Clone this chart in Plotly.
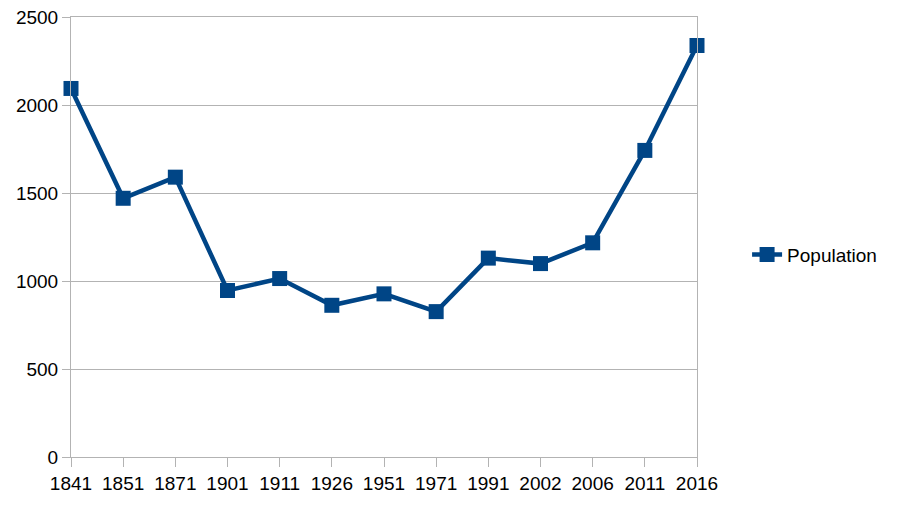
import plotly.graph_objects as go

years = ["1841", "1851", "1871", "1901", "1911", "1926", "1951", "1971", "1991", "2002", "2006", "2011", "2016"]
population = [2094, 1470, 1590, 946, 1014, 862, 927, 826, 1130, 1099, 1217, 1742, 2338]
y_ticks = [0, 500, 1000, 1500, 2000, 2500]

color = "#004586"
grid = "#b3b3b3"
idx = list(range(len(years)))

fig = go.Figure()
fig.add_trace(go.Scatter(
    x=idx, y=population, mode="lines+markers", name="Population",
    line=dict(color=color, width=4.5),
    marker=dict(symbol="square", size=15, color=color),
    cliponaxis=False,
))

fig.update_layout(
    width=889, height=503,
    margin=dict(l=63, r=200, t=9, b=54),
    paper_bgcolor="white", plot_bgcolor="white",
    font=dict(family="Liberation Sans, Arial, sans-serif", size=19, color="#000000"),
    showlegend=True,
    legend=dict(x=1.08, y=0.46, xanchor="left", yanchor="middle",
                font=dict(size=19), bgcolor="rgba(0,0,0,0)"),
    xaxis=dict(
        range=[0, len(years) - 1], tickmode="array", tickvals=idx, ticktext=years,
        showgrid=False, zeroline=False, automargin=False,
        showline=True, linecolor=grid, linewidth=1, mirror=True,
        ticks="outside", ticklen=9, tickcolor=grid, tickwidth=1,
        tickfont=dict(size=19), ticklabeloverflow="allow",
    ),
    yaxis=dict(
        range=[0, 2500], tickvals=y_ticks,
        showgrid=True, gridcolor=grid, gridwidth=1, zeroline=False, automargin=False,
        showline=True, linecolor=grid, linewidth=1, mirror=True,
        ticks="outside", ticklen=8, tickcolor=grid, tickwidth=1,
        tickfont=dict(size=19), ticklabeloverflow="allow",
    ),
)

fig.write_html("out.html")
